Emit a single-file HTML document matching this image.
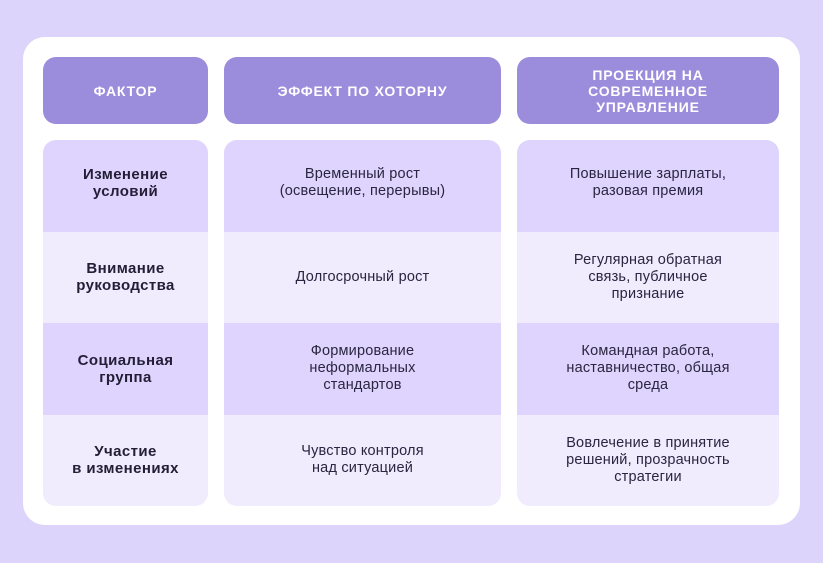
<!DOCTYPE html>
<html><head><meta charset="utf-8"><style>
*{margin:0;padding:0;box-sizing:border-box}
body{width:823px;height:563px;background:#ddd4fb;font-family:"Liberation Sans",sans-serif;position:relative;overflow:hidden}
.card{position:absolute;left:23px;top:37px;width:777px;height:488px;background:#fff;border-radius:22px}
.h{position:absolute;top:57px;height:67px;background:#9b8cdc;border-radius:13px;color:#fff;font-weight:bold;font-size:14px;letter-spacing:0.8px;display:flex;align-items:center;justify-content:center;text-align:center;line-height:16px}
.col{position:absolute;top:140px;height:366px;border-radius:13px;overflow:hidden}
.c{height:91.5px;display:flex;align-items:center;justify-content:center;text-align:center;font-size:14.5px;letter-spacing:0.2px;line-height:17px;color:#2a2540;padding:0 6px}
.c:nth-child(odd){background:#ded4fd}.c:nth-child(even){background:#f0ebfd}
.b{font-weight:bold;font-size:15px;letter-spacing:0.4px;color:#231d36}
</style></head><body>
<div class="card"></div>
<div class="h" style="left:43px;width:165px">ФАКТОР</div>
<div class="h" style="left:224px;width:277px">ЭФФЕКТ ПО ХОТОРНУ</div>
<div class="h" style="left:517px;width:262px">ПРОЕКЦИЯ НА<br>СОВРЕМЕННОЕ<br>УПРАВЛЕНИЕ</div>
<div class="col" style="left:43px;width:165px">
<div class="c b" style="padding-bottom:6px">Изменение<br>условий</div>
<div class="c b">Внимание<br>руководства</div>
<div class="c b">Социальная<br>группа</div>
<div class="c b">Участие<br>в изменениях</div>
</div>
<div class="col" style="left:224px;width:277px">
<div class="c" style="padding-bottom:6px">Временный рост<br>(освещение, перерывы)</div>
<div class="c">Долгосрочный рост</div>
<div class="c">Формирование<br>неформальных<br>стандартов</div>
<div class="c">Чувство контроля<br>над ситуацией</div>
</div>
<div class="col" style="left:517px;width:262px">
<div class="c" style="padding-bottom:6px">Повышение зарплаты,<br>разовая премия</div>
<div class="c">Регулярная обратная<br>связь, публичное<br>признание</div>
<div class="c">Командная работа,<br>наставничество, общая<br>среда</div>
<div class="c">Вовлечение в принятие<br>решений, прозрачность<br>стратегии</div>
</div>
</body></html>
